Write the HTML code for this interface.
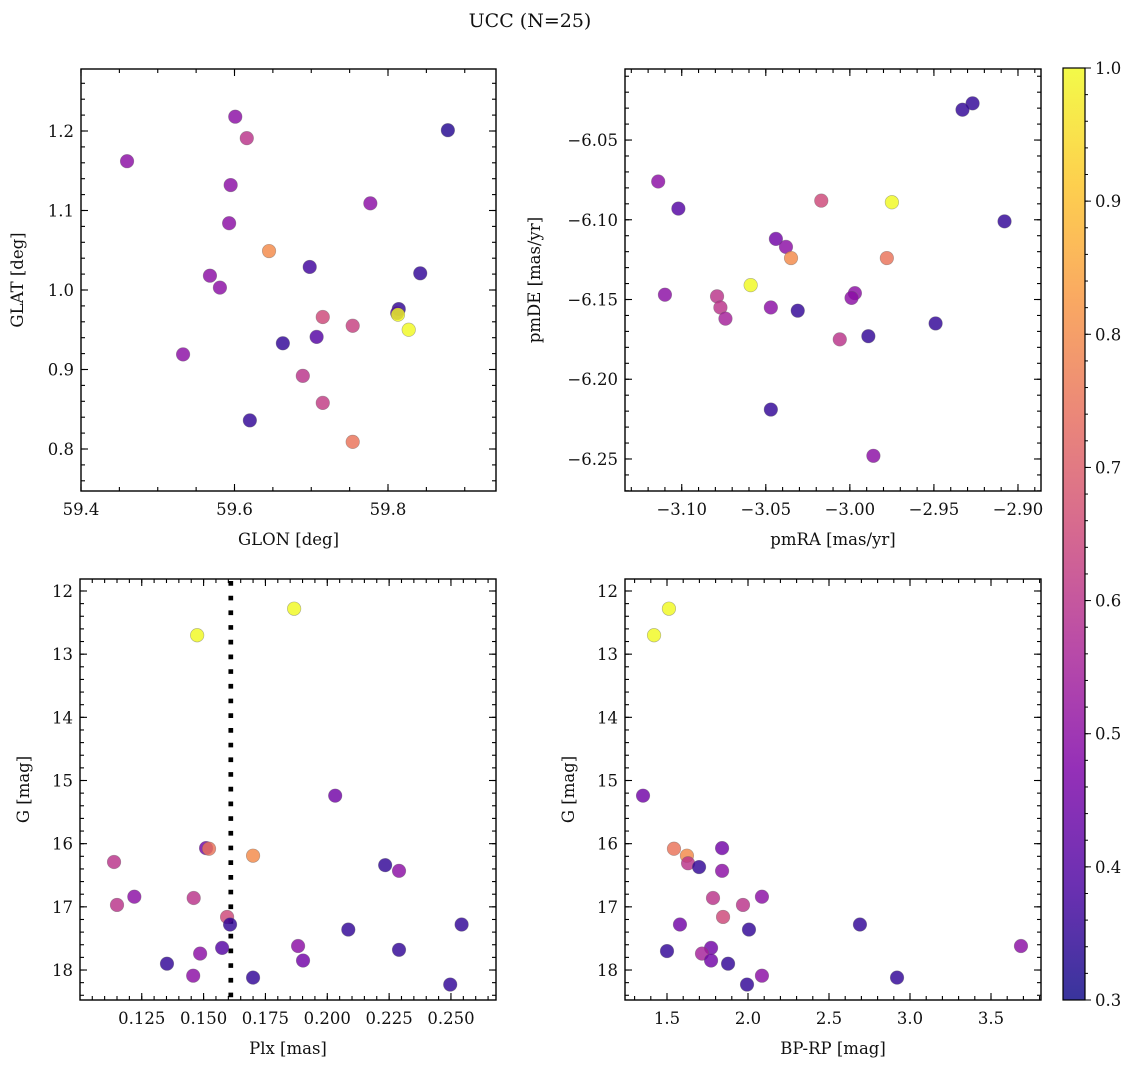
<!DOCTYPE html>
<html><head><meta charset="utf-8"><style>
body{margin:0;background:#fff;}
svg text{font-family:"DejaVu Serif","Liberation Serif",serif;fill:#111;}
</style></head><body>
<svg id="fig" width="1136" height="1068" xmlns="http://www.w3.org/2000/svg">
<text x="530" y="27" font-size="19" text-anchor="middle">UCC (N=25)</text>
</svg>
<script>
// ---- data ----
const glonX=[59.460,59.601,59.616,59.595,59.593,59.645,59.878,59.777,59.698,59.842,59.568,59.581,59.814,59.812,59.813,59.827,59.715,59.754,59.663,59.707,59.533,59.689,59.715,59.620,59.754];
const glatY=[1.162,1.218,1.191,1.132,1.084,1.049,1.201,1.109,1.029,1.021,1.018,1.003,0.976,0.971,0.969,0.950,0.966,0.955,0.933,0.941,0.919,0.892,0.858,0.836,0.809];
const glC=[0.5,0.5,0.6,0.5,0.5,0.8,0.33,0.5,0.37,0.35,0.5,0.5,0.35,0.4,1.0,1.0,0.65,0.63,0.35,0.4,0.5,0.6,0.62,0.35,0.75];
const pmRA=[-3.114,-3.102,-3.110,-2.927,-2.933,-2.908,-3.017,-2.975,-3.044,-3.038,-3.035,-2.978,-3.059,-3.079,-3.077,-3.074,-3.047,-3.031,-2.997,-2.999,-2.949,-2.989,-3.006,-3.047,-2.986];
const pmDE=[-6.076,-6.093,-6.147,-6.027,-6.031,-6.101,-6.088,-6.089,-6.112,-6.117,-6.124,-6.124,-6.141,-6.148,-6.155,-6.162,-6.155,-6.157,-6.146,-6.149,-6.165,-6.173,-6.175,-6.219,-6.248];
const pmC=[0.5,0.4,0.5,0.35,0.35,0.35,0.65,1.0,0.45,0.5,0.8,0.75,1.0,0.6,0.6,0.55,0.5,0.35,0.5,0.5,0.35,0.35,0.6,0.35,0.5];
const plx=[0.1474,0.1866,0.2032,0.1138,0.1510,0.1522,0.1700,0.2234,0.229,0.115,0.122,0.146,0.1595,0.1607,0.2085,0.2543,0.1575,0.1486,0.1882,0.1902,0.229,0.1352,0.1458,0.1700,0.2497];
const gPlx=[12.70,12.28,15.24,16.29,16.07,16.08,16.19,16.34,16.43,16.97,16.84,16.86,17.16,17.28,17.36,17.28,17.65,17.74,17.62,17.85,17.68,17.90,18.09,18.12,18.23];
const plxC=[1.0,1.0,0.45,0.6,0.45,0.75,0.8,0.35,0.5,0.6,0.5,0.6,0.65,0.35,0.35,0.35,0.4,0.5,0.5,0.45,0.35,0.35,0.5,0.35,0.35];
const bprp=[1.420,1.512,1.352,1.543,1.623,1.630,1.698,1.840,1.840,1.784,1.969,2.086,1.846,1.580,2.006,2.691,1.500,1.772,1.716,1.772,1.877,2.086,2.920,1.994,3.685];
const gCol=[12.70,12.28,15.24,16.08,16.19,16.31,16.37,16.07,16.43,16.86,16.97,16.84,17.16,17.28,17.36,17.28,17.70,17.65,17.74,17.85,17.90,18.09,18.12,18.23,17.62];
const colC=[1.0,1.0,0.45,0.75,0.8,0.6,0.35,0.45,0.5,0.6,0.6,0.5,0.65,0.45,0.35,0.35,0.35,0.45,0.55,0.45,0.35,0.5,0.35,0.35,0.5];
const plxLine=0.161;
const cbTicks=[0.3,0.4,0.5,0.6,0.7,0.8,0.9,1.0];

const NS="http://www.w3.org/2000/svg";
const svg=document.getElementById('fig');
function el(t,a,p){const e=document.createElementNS(NS,t);for(const k in a)e.setAttribute(k,a[k]);(p||svg).appendChild(e);return e;}
const stops=[[0,[13,8,135]],[0.125,[76,2,161]],[0.25,[126,3,168]],[0.375,[169,35,149]],[0.5,[204,71,120]],[0.625,[230,108,92]],[0.75,[248,149,64]],[0.875,[253,197,39]],[1,[240,249,33]]];
function plasma(t){t=Math.max(0,Math.min(1,t));for(let i=1;i<stops.length;i++){if(t<=stops[i][0]){const a=stops[i-1],b=stops[i];const f=(t-a[0])/(b[0]-a[0]);const c=a[1].map((v,j)=>Math.round(v+(b[1][j]-v)*f));return `rgb(${c})`;}}return 'rgb(240,249,33)';}
function cmap(v){return plasma((v-0.3)/0.7);}
function fmt(v,d){let s=v.toFixed(d);return s.replace('-','\u2212');}
const FS=16.5;

function panel(o){
  const {x0,y0,x1,y1,xmin,xmax,ymin,ymax,inv,xMaj,xMin,yMaj,yMin,xd,yd,xl,yl,name}=o;
  const g=el('g',{});
  
  
  const sx=v=>x0+(v-xmin)/(xmax-xmin)*(x1-x0);
  const sy=inv?(v=>y0+(v-ymin)/(ymax-ymin)*(y1-y0)):(v=>y1-(v-ymin)/(ymax-ymin)*(y1-y0));
  return {g,sx,sy,finish(){
    const f=el('rect',{x:x0,y:y0,width:x1-x0,height:y1-y0,fill:'none',stroke:'#000','stroke-width':1.4},g);
    
    const tk=(v,len,isX)=>{if(isX){const p=sx(v);if(p<x0-0.5||p>x1+0.5)return;el('line',{x1:p,x2:p,y1:y1,y2:y1-len,stroke:'#000','stroke-width':1.1},g);el('line',{x1:p,x2:p,y1:y0,y2:y0+len,stroke:'#000','stroke-width':1.1},g);}else{const p=sy(v);if(p<y0-0.5||p>y1+0.5)return;el('line',{y1:p,y2:p,x1:x0,x2:x0+len,stroke:'#000','stroke-width':1.1},g);el('line',{y1:p,y2:p,x1:x1,x2:x1-len,stroke:'#000','stroke-width':1.1},g);}};
    const lo=Math.min(xmin,xmax),hi=Math.max(xmin,xmax);
    for(let v=Math.ceil(lo/xMin-1e-6)*xMin;v<=hi+1e-9;v+=xMin)tk(v,4,true);
    const ylo=Math.min(ymin,ymax),yhi=Math.max(ymin,ymax);
    for(let v=Math.ceil(ylo/yMin-1e-6)*yMin;v<=yhi+1e-9;v+=yMin)tk(v,4,false);
    xMaj.forEach(v=>{tk(v,7,true);const t=el('text',{x:sx(v),y:y1+24,'font-size':FS,'text-anchor':'middle'},g);t.textContent=fmt(v,xd);});
    yMaj.forEach(v=>{tk(v,7,false);const t=el('text',{x:x0-7,y:sy(v)+6,'font-size':FS,'text-anchor':'end'},g);t.textContent=fmt(v,yd);});
    const a=el('text',{x:(x0+x1)/2,y:y1+54,'font-size':FS,'text-anchor':'middle'},g);a.textContent=xl;
    const b=el('text',{x:0,y:0,'font-size':FS,'text-anchor':'middle',transform:`translate(${o.ylx},${(y0+y1)/2}) rotate(-90)`},g);b.textContent=yl;
  }};
}
function dots(p,xs,ys,cs){xs.forEach((x,i)=>{const c=el('circle',{cx:p.sx(x),cy:p.sy(ys[i]),r:6.8,fill:cmap(cs[i]),'fill-opacity':0.82,stroke:'#666','stroke-opacity':0.5,'stroke-width':0.6},p.g);});}

const p1=panel({name:'glon-glat-panel',x0:81,y0:69,x1:496,y1:491,xmin:59.4,xmax:59.4+415/767.5,ymin:0.8-42/795,ymax:1.2+62/795,xMaj:[59.4,59.6,59.8],xMin:0.05,yMaj:[0.8,0.9,1.0,1.1,1.2],yMin:0.02,xd:1,yd:1,xl:'GLON [deg]',yl:'GLAT [deg]',ylx:23});
dots(p1,glonX,glatY,glC);p1.finish();
const p2=panel({name:'pm-panel',x0:625,y0:69,x1:1041,y1:491,xmin:-3.1-56.7/1680,xmax:-2.9+23/1680,ymin:-6.25-32/1594,ymax:-6.05+71/1594,xMaj:[-3.1,-3.05,-3.0,-2.95,-2.9],xMin:0.01,yMaj:[-6.25,-6.2,-6.15,-6.1,-6.05],yMin:0.01,xd:2,yd:2,xl:'pmRA [mas/yr]',yl:'pmDE [mas/yr]',ylx:540});
dots(p2,pmRA,pmDE,pmC);p2.finish();
const p3=panel({name:'plx-g-panel',x0:80,y0:579,x1:496,y1:1000,inv:true,xmin:0.125-61.7/2472,xmax:0.25+45/2472,ymin:12-12/63.2,ymax:18+30/63.2,xMaj:[0.125,0.15,0.175,0.2,0.225,0.25],xMin:0.005,yMaj:[12,13,14,15,16,17,18],yMin:0.2,xd:3,yd:0,xl:'Plx [mas]',yl:'G [mag]',ylx:29});
const vl=el('line',{x1:p3.sx(plxLine),x2:p3.sx(plxLine),y1:581,y2:1000,stroke:'#000','stroke-width':4.7,'stroke-dasharray':'4.7 10'},p3.g);

dots(p3,plx,gPlx,plxC);p3.finish();
const p4=panel({name:'cmd-panel',x0:625,y0:579,x1:1041,y1:1000,inv:true,xmin:1.5-42/162,xmax:3.5+50/162,ymin:12-12/63.2,ymax:18+30/63.2,xMaj:[1.5,2.0,2.5,3.0,3.5],xMin:0.1,yMaj:[12,13,14,15,16,17,18],yMin:0.2,xd:1,yd:0,xl:'BP-RP [mag]',yl:'G [mag]',ylx:574});
dots(p4,bprp,gCol,colC);p4.finish();

// colorbar
const cb=el('g',{});


const defs=el('defs',{},cb);const lg=el('linearGradient',{id:'cbg',x1:0,y1:1,x2:0,y2:0},defs);
for(let i=0;i<=16;i++){el('stop',{offset:i/16,'stop-color':plasma(i/16),'stop-opacity':0.82},lg);}
const cbx0=1063,cbx1=1085,cby0=68,cby1=1000;
el('rect',{x:cbx0,y:cby0,width:cbx1-cbx0,height:cby1-cby0,fill:'url(#cbg)',stroke:'#000','stroke-width':1.2},cb);
const cy=v=>cby1-(v-0.3)/0.7*(cby1-cby0);
for(let v=0.3;v<=1.0001;v+=0.02){el('line',{x1:cbx1,x2:cbx1+3,y1:cy(v),y2:cy(v),stroke:'#000','stroke-width':1},cb);}
cbTicks.forEach(v=>{el('line',{x1:cbx1,x2:cbx1+6,y1:cy(v),y2:cy(v),stroke:'#000','stroke-width':1},cb);const t=el('text',{x:1095,y:cy(v)+6,'font-size':FS},cb);t.textContent=v.toFixed(1);});
</script>
</body></html>
